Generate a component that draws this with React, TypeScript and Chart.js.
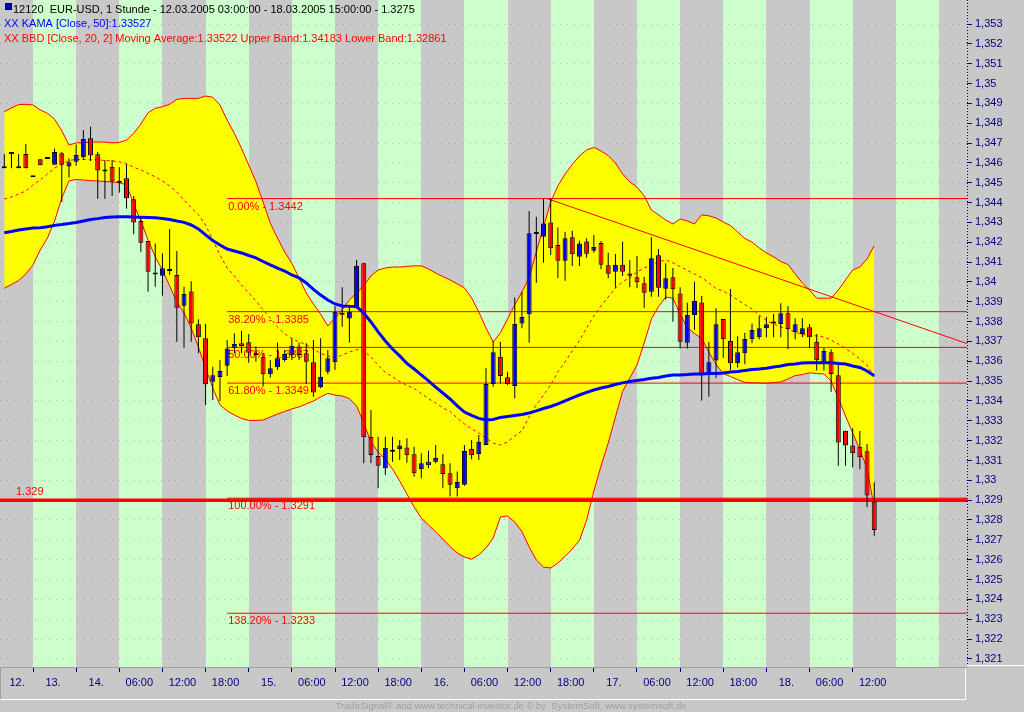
import React, { useEffect, useRef } from 'react';
import { Chart, registerables } from 'chart.js';

Chart.register(...registerables);

// ---------------- data (EUR-USD, 1 hour bars) ----------------
const opens = [
  1.34573, 1.34645, 1.34573, 1.34645, 1.34527, 1.34618, 1.34620, 1.34591, 1.34648, 1.34582,
  1.34606, 1.34628, 1.34724, 1.34643, 1.34556, 1.34581, 1.34507, 1.34522, 1.34417, 1.34307,
  1.34206, 1.34048, 1.34031, 1.34055, 1.34035, 1.33880, 1.33952, 1.33786, 1.33716, 1.33497,
  1.33521, 1.33578, 1.33668, 1.33691, 1.33696, 1.33635, 1.33620, 1.33534, 1.33570, 1.33607,
  1.33632, 1.33674, 1.33640, 1.33595, 1.33469, 1.33547, 1.33595, 1.33845, 1.33816, 1.33867,
  1.34094, 1.33220, 1.33123, 1.33061, 1.33144, 1.33156, 1.33166, 1.33131, 1.33056, 1.33093,
  1.33094, 1.33081, 1.33035, 1.32960, 1.32977, 1.33159, 1.33133, 1.33178, 1.33486, 1.33623,
  1.33519, 1.33476, 1.33790, 1.33837, 1.34242, 1.34228, 1.34300, 1.34186, 1.34107, 1.34225,
  1.34127, 1.34204, 1.34157, 1.34196, 1.34084, 1.34051, 1.34086, 1.34043, 1.34023, 1.33993,
  1.33950, 1.34134, 1.33966, 1.34023, 1.33942, 1.33693, 1.33833, 1.33896, 1.33536, 1.33604,
  1.33813, 1.33702, 1.33590, 1.33640, 1.33711, 1.33721, 1.33766, 1.33791, 1.33788, 1.33842,
  1.33746, 1.33738, 1.33771, 1.33698, 1.33598, 1.33645, 1.33529, 1.33250, 1.33176, 1.33169,
  1.33146, 1.32893,
];
const highs = [
  1.34645, 1.34645, 1.34645, 1.34695, 1.34527, 1.34618, 1.34620, 1.34673, 1.34656, 1.34623,
  1.34693, 1.34766, 1.34782, 1.34655, 1.34614, 1.34615, 1.34578, 1.34594, 1.34433, 1.34329,
  1.34206, 1.34194, 1.34144, 1.34267, 1.34156, 1.33976, 1.34003, 1.33812, 1.33788, 1.33573,
  1.33607, 1.33707, 1.33741, 1.33754, 1.33738, 1.33674, 1.33643, 1.33607, 1.33693, 1.33657,
  1.33716, 1.33693, 1.33691, 1.33707, 1.33716, 1.33657, 1.33879, 1.33973, 1.33884, 1.34111,
  1.34097, 1.33355, 1.33220, 1.33220, 1.33220, 1.33203, 1.33212, 1.33169, 1.33136, 1.33149,
  1.33178, 1.33133, 1.33086, 1.33044, 1.33178, 1.33203, 1.33228, 1.33565, 1.33702, 1.33698,
  1.33547, 1.33922, 1.33949, 1.34358, 1.34329, 1.34418, 1.34420, 1.34274, 1.34253, 1.34258,
  1.34207, 1.34220, 1.34237, 1.34206, 1.34147, 1.34141, 1.34202, 1.34111, 1.34131, 1.34026,
  1.34225, 1.34166, 1.34094, 1.34070, 1.33973, 1.33895, 1.34001, 1.33929, 1.33698, 1.33867,
  1.33813, 1.33964, 1.33726, 1.33744, 1.33791, 1.33828, 1.33825, 1.33838, 1.33892, 1.33879,
  1.33817, 1.33817, 1.33788, 1.33738, 1.33668, 1.33660, 1.33598, 1.33250, 1.33262, 1.33249,
  1.33183, 1.32990,
];
const lows = [
  1.34573, 1.34573, 1.34573, 1.34573, 1.34527, 1.34588, 1.34620, 1.34591, 1.34403, 1.34526,
  1.34585, 1.34615, 1.34610, 1.34419, 1.34419, 1.34433, 1.34450, 1.34369, 1.34240, 1.34152,
  1.33950, 1.33976, 1.33930, 1.34035, 1.33698, 1.33668, 1.33698, 1.33640, 1.33380, 1.33405,
  1.33400, 1.33526, 1.33642, 1.33640, 1.33593, 1.33598, 1.33476, 1.33518, 1.33556, 1.33598,
  1.33607, 1.33607, 1.33486, 1.33421, 1.33464, 1.33534, 1.33556, 1.33774, 1.33693, 1.33867,
  1.33086, 1.33086, 1.32960, 1.33027, 1.33094, 1.33103, 1.33089, 1.33018, 1.33010, 1.33061,
  1.33086, 1.32960, 1.32918, 1.32918, 1.32972, 1.33106, 1.33103, 1.33178, 1.33472, 1.33489,
  1.33481, 1.33414, 1.33766, 1.33693, 1.33996, 1.34097, 1.34136, 1.34020, 1.34006, 1.34080,
  1.34080, 1.34122, 1.34147, 1.34064, 1.34018, 1.33971, 1.34030, 1.33973, 1.33968, 1.33870,
  1.33925, 1.33925, 1.33912, 1.33800, 1.33665, 1.33665, 1.33758, 1.33402, 1.33421, 1.33515,
  1.33618, 1.33556, 1.33568, 1.33585, 1.33691, 1.33711, 1.33721, 1.33721, 1.33721, 1.33660,
  1.33711, 1.33721, 1.33668, 1.33553, 1.33553, 1.33447, 1.33074, 1.33074, 1.33064, 1.33056,
  1.32864, 1.32721,
];
const closes = [
  1.34573, 1.34645, 1.34573, 1.34573, 1.34527, 1.34588, 1.34620, 1.34655, 1.34591, 1.34603,
  1.34640, 1.34721, 1.34637, 1.34561, 1.34556, 1.34506, 1.34500, 1.34422, 1.34300, 1.34197,
  1.34051, 1.34038, 1.34069, 1.34055, 1.33870, 1.33939, 1.33791, 1.33721, 1.33484, 1.33529,
  1.33551, 1.33665, 1.33687, 1.33677, 1.33643, 1.33630, 1.33534, 1.33565, 1.33615, 1.33637,
  1.33678, 1.33632, 1.33598, 1.33443, 1.33522, 1.33615, 1.33850, 1.33834, 1.33850, 1.34081,
  1.33217, 1.33128, 1.33074, 1.33164, 1.33144, 1.33176, 1.33126, 1.33035, 1.33086, 1.33076,
  1.33114, 1.33032, 1.32977, 1.32992, 1.33148, 1.33126, 1.33194, 1.33486, 1.33645, 1.33526,
  1.33486, 1.33788, 1.33823, 1.34245, 1.34242, 1.34295, 1.34170, 1.34107, 1.34220, 1.34139,
  1.34194, 1.34142, 1.34176, 1.34087, 1.34041, 1.34086, 1.34051, 1.34031, 1.33998, 1.33945,
  1.34119, 1.33971, 1.34018, 1.33963, 1.33698, 1.33834, 1.33904, 1.33529, 1.33595, 1.33787,
  1.33711, 1.33590, 1.33645, 1.33712, 1.33758, 1.33766, 1.33787, 1.33798, 1.33842, 1.33761,
  1.33787, 1.33766, 1.33721, 1.33605, 1.33652, 1.33536, 1.33191, 1.33176, 1.33136, 1.33116,
  1.32923, 1.32750,
];
const bbUpper = [
  1.34858, 1.34877, 1.34894, 1.34895, 1.34892, 1.34867, 1.34850, 1.34820, 1.34762, 1.34690,
  1.34701, 1.34701, 1.34705, 1.34705, 1.34705, 1.34701, 1.34703, 1.34715, 1.34749, 1.34796,
  1.34853, 1.34875, 1.34883, 1.34895, 1.34920, 1.34925, 1.34925, 1.34925, 1.34937, 1.34931,
  1.34892, 1.34816, 1.34749, 1.34673, 1.34589, 1.34505, 1.34403, 1.34296, 1.34221, 1.34151,
  1.34094, 1.34020, 1.33944, 1.33889, 1.33838, 1.33778, 1.33818, 1.33859, 1.33909, 1.33944,
  1.33980, 1.34030, 1.34060, 1.34070, 1.34075, 1.34075, 1.34078, 1.34081, 1.34081, 1.34065,
  1.34045, 1.34027, 1.34010, 1.33990, 1.33970, 1.33919, 1.33849, 1.33768, 1.33697, 1.33744,
  1.33813, 1.33884, 1.33949, 1.34020, 1.34151, 1.34277, 1.34403, 1.34484, 1.34544, 1.34592,
  1.34635, 1.34665, 1.34678, 1.34660, 1.34637, 1.34599, 1.34544, 1.34504, 1.34478, 1.34433,
  1.34363, 1.34338, 1.34312, 1.34292, 1.34317, 1.34307, 1.34292, 1.34338, 1.34333, 1.34322,
  1.34302, 1.34284, 1.34252, 1.34219, 1.34201, 1.34171, 1.34146, 1.34126, 1.34103, 1.34088,
  1.34040, 1.33995, 1.33959, 1.33918, 1.33918, 1.33918, 1.33959, 1.34010, 1.34060, 1.34075,
  1.34116, 1.34183,
];
const bbLower = [
  1.33968, 1.33987, 1.34007, 1.34040, 1.34086, 1.34161, 1.34221, 1.34307, 1.34423, 1.34509,
  1.34516, 1.34514, 1.34510, 1.34509, 1.34506, 1.34504, 1.34500, 1.34489, 1.34393, 1.34307,
  1.34211, 1.34126, 1.34060, 1.33980, 1.33899, 1.33844, 1.33768, 1.33672, 1.33566, 1.33465,
  1.33380, 1.33350, 1.33329, 1.33312, 1.33302, 1.33302, 1.33304, 1.33319, 1.33334, 1.33347,
  1.33360, 1.33370, 1.33385, 1.33400, 1.33420, 1.33438, 1.33430, 1.33425, 1.33412, 1.33375,
  1.33289, 1.33193, 1.33143, 1.33105, 1.33057, 1.32997, 1.32931, 1.32866, 1.32810, 1.32775,
  1.32740, 1.32704, 1.32666, 1.32634, 1.32614, 1.32602, 1.32624, 1.32659, 1.32709, 1.32815,
  1.32820, 1.32790, 1.32742, 1.32664, 1.32599, 1.32563, 1.32558, 1.32583, 1.32617, 1.32654,
  1.32697, 1.32800, 1.32946, 1.33072, 1.33188, 1.33319, 1.33448, 1.33516, 1.33581, 1.33692,
  1.33813, 1.33876, 1.33924, 1.33918, 1.33838, 1.33770, 1.33740, 1.33715, 1.33647, 1.33584,
  1.33538, 1.33523, 1.33508, 1.33493, 1.33491, 1.33491, 1.33489, 1.33493, 1.33496, 1.33511,
  1.33528, 1.33533, 1.33542, 1.33538, 1.33536, 1.33501, 1.33415, 1.33324, 1.33239, 1.33153,
  1.33062, 1.32861,
];
const bbMiddle = [
  1.34418, 1.34428, 1.34443, 1.34458, 1.34489, 1.34514, 1.34544, 1.34574, 1.34594, 1.34612,
  1.34618, 1.34617, 1.34616, 1.34615, 1.34612, 1.34610, 1.34605, 1.34597, 1.34578, 1.34564,
  1.34547, 1.34529, 1.34509, 1.34484, 1.34453, 1.34413, 1.34373, 1.34338, 1.34287, 1.34211,
  1.34136, 1.34070, 1.34030, 1.33984, 1.33944, 1.33904, 1.33859, 1.33818, 1.33773, 1.33738,
  1.33715, 1.33697, 1.33685, 1.33662, 1.33639, 1.33627, 1.33617, 1.33632, 1.33647, 1.33659,
  1.33652, 1.33622, 1.33581, 1.33544, 1.33521, 1.33498, 1.33478, 1.33463, 1.33438, 1.33412,
  1.33390, 1.33365, 1.33347, 1.33314, 1.33284, 1.33259, 1.33239, 1.33213, 1.33187, 1.33178,
  1.33193, 1.33224, 1.33249, 1.33319, 1.33380, 1.33430, 1.33481, 1.33546, 1.33597, 1.33652,
  1.33705, 1.33768, 1.33828, 1.33879, 1.33924, 1.33969, 1.34000, 1.34022, 1.34050, 1.34070,
  1.34086, 1.34101, 1.34111, 1.34096, 1.34077, 1.34058, 1.34040, 1.34022, 1.33995, 1.33967,
  1.33954, 1.33934, 1.33909, 1.33886, 1.33864, 1.33833, 1.33806, 1.33788, 1.33773, 1.33763,
  1.33748, 1.33735, 1.33730, 1.33728, 1.33722, 1.33707, 1.33687, 1.33664, 1.33640, 1.33612,
  1.33581, 1.33522,
];
const kama = [
  1.34248, 1.34254, 1.34262, 1.34267, 1.34272, 1.34273, 1.34278, 1.34285, 1.34289, 1.34294,
  1.34300, 1.34307, 1.34315, 1.34319, 1.34325, 1.34327, 1.34329, 1.34329, 1.34327, 1.34326,
  1.34325, 1.34324, 1.34320, 1.34315, 1.34307, 1.34300, 1.34287, 1.34267, 1.34237, 1.34209,
  1.34186, 1.34166, 1.34156, 1.34146, 1.34133, 1.34121, 1.34103, 1.34086, 1.34070, 1.34055,
  1.34035, 1.34020, 1.33995, 1.33962, 1.33934, 1.33909, 1.33889, 1.33879, 1.33877, 1.33876,
  1.33843, 1.33798, 1.33748, 1.33702, 1.33662, 1.33627, 1.33589, 1.33561, 1.33531, 1.33501,
  1.33470, 1.33440, 1.33410, 1.33375, 1.33344, 1.33327, 1.33312, 1.33304, 1.33307, 1.33317,
  1.33322, 1.33327, 1.33332, 1.33339, 1.33350, 1.33362, 1.33372, 1.33385, 1.33400, 1.33415,
  1.33430, 1.33443, 1.33455, 1.33465, 1.33473, 1.33483, 1.33491, 1.33498, 1.33503, 1.33508,
  1.33514, 1.33518, 1.33526, 1.33531, 1.33531, 1.33533, 1.33536, 1.33536, 1.33538, 1.33538,
  1.33541, 1.33546, 1.33549, 1.33554, 1.33559, 1.33561, 1.33565, 1.33571, 1.33576, 1.33584,
  1.33586, 1.33591, 1.33593, 1.33593, 1.33593, 1.33593, 1.33589, 1.33586, 1.33576, 1.33569,
  1.33551, 1.33527,
];

const xTickBars = [-1, 4, 10, 16, 22, 28, 34, 40, 46, 52, 58, 64, 70, 76, 82, 88, 94, 100, 106, 112, 118];
const xTickLabels = ['12.', '13.', '14.', '06:00', '12:00', '18:00', '15.', '06:00', '12:00', '18:00', '16.',
  '06:00', '12:00', '18:00', '17.', '06:00', '12:00', '18:00', '18.', '06:00', '12:00'];
const sessionBounds = [4, 10, 16, 22, 28, 34, 40, 46, 52, 58, 64, 70, 76, 82, 88, 94, 100, 106, 112, 118, 124, 130];
const yTicks = [1.321, 1.322, 1.323, 1.324, 1.325, 1.326, 1.327, 1.328, 1.329, 1.33, 1.331, 1.332, 1.333,
  1.334, 1.335, 1.336, 1.337, 1.338, 1.339, 1.34, 1.341, 1.342, 1.343, 1.344, 1.345, 1.346, 1.347, 1.348,
  1.349, 1.35, 1.351, 1.352, 1.353];

const fibLevels = [1.3442, 1.3385, 1.3367, 1.3349, 1.3291, 1.3233];
const fibLabels = ['0.00% - 1.3442', '38.20% - 1.3385', '50.00% - 1.3367', '61.80% - 1.3349', '100.00% - 1.3291', '138.20% - 1.3233'];
const fibStartBar = 31;
const supportLevel = 1.329;
const supportLabel = '1.329';
const trendBars = [75.5, 134];
const trendPrices = [1.3442, 1.33688];

const titleLine = '12120  EUR-USD, 1 Stunde - 12.03.2005 03:00:00 - 18.03.2005 15:00:00 - 1.3275';
const kamaLine = 'XX KAMA [Close, 50]:1.33527';
const bbLine = 'XX BBD [Close, 20, 2] Moving Average:1.33522 Upper Band:1.34183 Lower Band:1.32861';
const footer = 'TradeSignal\u00ae and www.technical-investor.de \u00a9 by  SystemSoft, www.systemsoft.de';

const X_MIN = -0.593;
const X_MAX = 133.9;
const Y_MIN = 1.32059;
const Y_MAX = 1.35421;

// ---------------- styling ----------------
const FAMILY = '"Liberation Sans", Arial, Helvetica, sans-serif';
const PANEL = '#c8c8c8';
const GREEN = '#ccffcc';
const NAVY = '#000080';
const RED = '#ff0000';
const BLUE = '#0000ff';
const WICK_INDEX = 10;

const decor = {
  id: 'decor',
  beforeDraw(chart: any) {
    const { ctx, chartArea: a } = chart;
    const xs = chart.scales.x;
    ctx.save();
    ctx.fillStyle = PANEL;
    ctx.fillRect(0, 0, chart.width, chart.height);
    const edges = [xs.min, ...sessionBounds, xs.max];
    for (let k = 0; k < edges.length - 1; k++) {
      const x0 = Math.round(xs.getPixelForValue(edges[k]));
      const x1 = Math.round(xs.getPixelForValue(edges[k + 1]));
      ctx.fillStyle = k % 2 === 0 ? PANEL : GREEN;
      ctx.fillRect(x0, a.top, x1 - x0, a.bottom - a.top);
    }
    ctx.restore();
  },
  beforeDatasetDraw(chart: any, args: any) {
    if (args.index !== WICK_INDEX) return;
    const { ctx } = chart;
    const xs = chart.scales.x;
    const ys = chart.scales.y;
    ctx.save();
    ctx.font = `11px ${FAMILY}`;
    ctx.fillStyle = RED;
    ctx.textAlign = 'left';
    ctx.textBaseline = 'middle';
    const px = xs.getPixelForValue(fibStartBar) + 1;
    fibLevels.forEach((lv, k) => {
      ctx.fillText(fibLabels[k], px, ys.getPixelForValue(lv) + 8);
    });
    ctx.fillText(supportLabel, 16, ys.getPixelForValue(supportLevel) - 8);
    ctx.restore();
  },
  afterDraw(chart: any) {
    const { ctx } = chart;
    ctx.save();
    // legend / title lines
    ctx.fillStyle = '#0000c0';
    ctx.fillRect(6, 4, 5, 5);
    ctx.strokeStyle = '#000040';
    ctx.lineWidth = 1;
    ctx.strokeRect(5.5, 3.5, 6, 6);
    ctx.font = `11px ${FAMILY}`;
    ctx.textAlign = 'left';
    ctx.textBaseline = 'middle';
    ctx.fillStyle = '#000000';
    ctx.fillText(titleLine, 13, 9.5);
    ctx.fillStyle = BLUE;
    ctx.fillText(kamaLine, 4, 24);
    ctx.fillStyle = RED;
    ctx.fillText(bbLine, 4, 38.5);
    // y axis dotted line
    ctx.strokeStyle = NAVY;
    ctx.setLineDash([1, 2]);
    ctx.beginPath();
    ctx.moveTo(967.5, 0);
    ctx.lineTo(967.5, 664);
    ctx.stroke();
    ctx.setLineDash([]);
    // panel borders
    ctx.strokeStyle = '#ffffff';
    ctx.beginPath();
    ctx.moveTo(0, 699.5);
    ctx.lineTo(965.5, 699.5);
    ctx.lineTo(965.5, 668);
    ctx.moveTo(967, 665.5);
    ctx.lineTo(1024, 665.5);
    ctx.stroke();
    ctx.strokeStyle = '#a0a0a0';
    ctx.beginPath();
    ctx.moveTo(0.5, 668);
    ctx.lineTo(0.5, 699);
    ctx.stroke();
    // footer
    ctx.font = `9.5px ${FAMILY}`;
    ctx.fillStyle = '#a0a0a0';
    ctx.textAlign = 'center';
    ctx.fillText(footer, 511, 706);
    ctx.restore();
  },
};

export default function App() {
  const ref = useRef<HTMLCanvasElement>(null);

  useEffect(() => {
    const canvas = ref.current;
    if (!canvas) return;
    const idx = opens.map((_, i) => i);
    const series = (vals: number[]) => idx.map((i) => ({ x: i, y: vals[i] }));
    const flat = (level: number, from: number, to: number) => [{ x: from, y: level }, { x: to, y: level }];
    const lineBase = { type: 'line', pointRadius: 0, pointHoverRadius: 0, tension: 0, fill: false };

    const fibSets = fibLevels.map((lv) => ({
      ...lineBase,
      data: flat(lv, fibStartBar, X_MAX + 1),
      borderColor: RED,
      borderWidth: 1,
      order: 15,
    }));

    const datasets: any[] = [
      { ...lineBase, data: series(bbUpper), borderColor: RED, borderWidth: 1, backgroundColor: '#ffff00', fill: '+1', order: 20 },
      { ...lineBase, data: series(bbLower), borderColor: RED, borderWidth: 1, order: 19 },
      ...fibSets,
      { ...lineBase, data: flat(supportLevel, -2, X_MAX + 1), borderColor: RED, borderWidth: 3.5, order: 14 },
      { ...lineBase, data: [{ x: trendBars[0], y: trendPrices[0] }, { x: trendBars[1], y: trendPrices[1] }], borderColor: RED, borderWidth: 1, order: 13 },
      {
        type: 'bar',
        data: idx.map((i) => ({ x: i, y: [lows[i], highs[i]] })),
        backgroundColor: '#000000',
        borderWidth: 0,
        barThickness: 1,
        grouped: false,
        inflateAmount: 0,
        order: 10,
      },
      {
        type: 'bar',
        data: idx.map((i) => ({ x: i, y: [opens[i], closes[i]] })),
        backgroundColor: idx.map((i) => (closes[i] > opens[i] ? BLUE : RED)),
        borderColor: '#000000',
        borderWidth: 1,
        borderSkipped: false,
        barThickness: 5,
        minBarLength: 2,
        grouped: false,
        inflateAmount: 0,
        order: 9,
      },
      { ...lineBase, data: series(bbMiddle), borderColor: RED, borderWidth: 1, borderDash: [3, 3], order: 12 },
      { ...lineBase, data: series(kama), borderColor: BLUE, borderWidth: 3, order: 1 },
    ];

    const chart = new Chart(canvas, {
      type: 'bar',
      data: { datasets },
      options: {
        responsive: false,
        maintainAspectRatio: false,
        devicePixelRatio: 1,
        animation: false,
        events: [],
        layout: { padding: 0 },
        plugins: { legend: { display: false }, tooltip: { enabled: false }, title: { display: false } },
        scales: {
          x: {
            type: 'linear',
            min: X_MIN,
            max: X_MAX,
            bounds: 'data',
            offset: false,
            afterBuildTicks: (s: any) => { s.ticks = xTickBars.map((v) => ({ value: v })); },
            afterFit: (s: any) => { s.height = 45; s.paddingLeft = 0; s.paddingRight = 0; },
            ticks: {
              callback: (v: any) => xTickLabels[xTickBars.indexOf(Number(v))] ?? '',
              labelOffset: 20,
              autoSkip: false,
              maxRotation: 0,
              minRotation: 0,
              color: NAVY,
              padding: 4,
              font: { family: FAMILY, size: 11 },
            },
            grid: { offset: false, drawOnChartArea: false, drawTicks: true, tickLength: 5, tickColor: NAVY, tickWidth: 1 },
            border: { display: true, color: '#a0a0a0', width: 1 },
          },
          y: {
            type: 'linear',
            position: 'right',
            min: Y_MIN,
            max: Y_MAX,
            bounds: 'data',
            beginAtZero: false,
            afterBuildTicks: (s: any) => { s.ticks = yTicks.map((v) => ({ value: v })); },
            afterFit: (s: any) => { s.width = 57; s.paddingTop = 0; s.paddingBottom = 0; },
            ticks: {
              callback: (v: any) => String(Math.round(Number(v) * 1000) / 1000).replace('.', ','),
              autoSkip: false,
              color: NAVY,
              padding: 3,
              font: { family: FAMILY, size: 11 },
            },
            grid: {
              color: 'rgba(120,110,150,0.4)',
              lineWidth: 1,
              drawOnChartArea: true,
              drawTicks: true,
              tickLength: 5,
              tickColor: NAVY,
              tickWidth: 1,
              tickBorderDash: [],
              borderDash: [1, 6],
            },
            border: { display: false, dash: [1, 6] },
          },
        },
      },
      plugins: [decor],
    } as any);

    return () => chart.destroy();
  }, []);

  return (
    <canvas
      ref={ref}
      width={1024}
      height={712}
      style={{ position: 'fixed', left: 0, top: 0, width: 1024, height: 712 }}
    />
  );
}
